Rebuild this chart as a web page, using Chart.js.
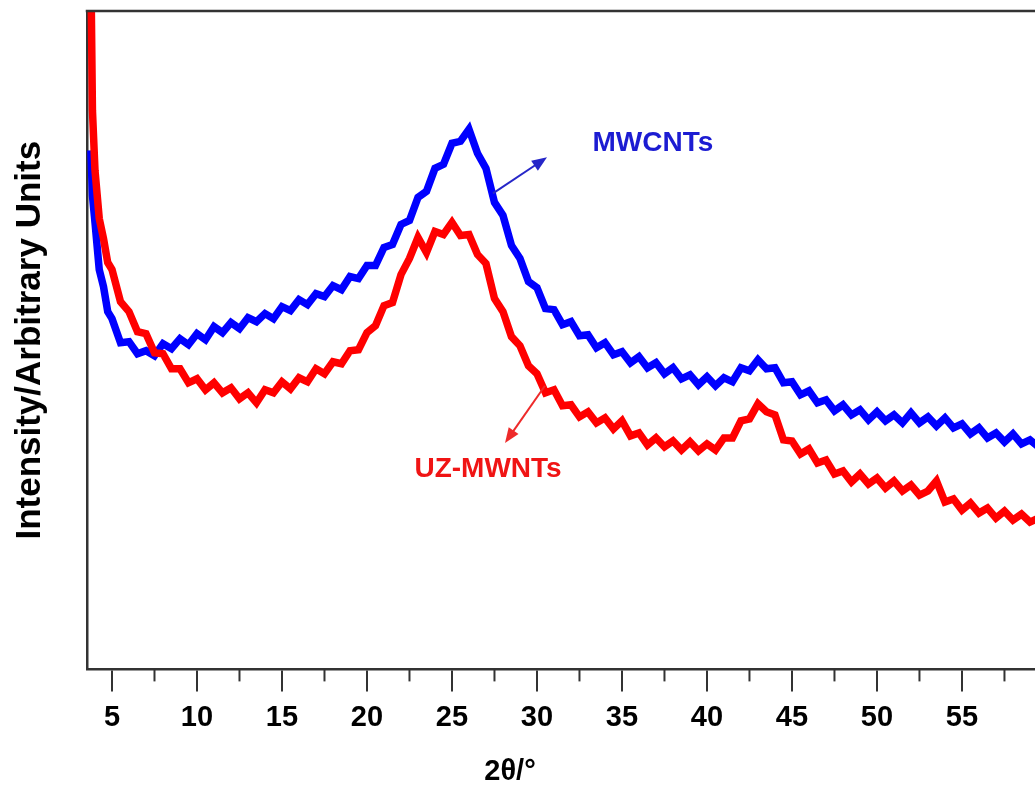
<!DOCTYPE html>
<html><head><meta charset="utf-8">
<script src="https://cdn.jsdelivr.net/npm/chart.js@4.4.0/dist/chart.umd.min.js"></script>
<style>
html,body{margin:0;padding:0;overflow:hidden;background:#fff;width:1035px;height:786px}
#wrap{position:absolute;left:0;top:0;width:1100px;height:786px}
</style>
</head><body><div id="wrap"><canvas id="c" width="1100" height="786"></canvas></div>
<script>
// 2θ (degrees)
const twoTheta = [3.76,3.85,4.0,4.25,4.5,4.75,
  5,5.5,6,6.5,7,7.5,8,8.5,9,9.5,
  10,10.5,11,11.5,12,12.5,13,13.5,14,14.5,
  15,15.5,16,16.5,17,17.5,18,18.5,19,19.5,
  20,20.5,21,21.5,22,22.5,23,23.5,24,24.5,
  25,25.5,26,26.5,27,27.5,28,28.5,29,29.5,
  30,30.5,31,31.5,32,32.5,33,33.5,34,34.5,
  35,35.5,36,36.5,37,37.5,38,38.5,39,39.5,
  40,40.5,41,41.5,42,42.5,43,43.5,44,44.5,
  45,45.5,46,46.5,47,47.5,48,48.5,49,49.5,
  50,50.5,51,51.5,52,52.5,53,53.5,54,54.5,
  55,55.5,56,56.5,57,57.5,58,58.5,59,59.5];
// Intensity (arbitrary units)
const mwcnts = [518,473,446,399,382,357,
  350,326,327,315,318,313,325,320,330,324,
  335,329,342,336,346,340,351,347,355,350,
  362,358,369,364,375,372,383,379,392,390,
  403,403,421,424,444,448,471,477,500,504,
  525,527,539,515,500,466,453,423,410,387,
  381,360,359,344,347,333,334,321,326,314,
  317,306,312,301,306,295,301,290,294,284,
  292,283,291,287,301,298,309,300,301,286,
  287,274,278,266,269,258,264,254,259,249,
  257,248,254,246,256,246,252,243,251,241,
  245,235,241,231,236,227,235,225,229,222];
const uzMwnts = [698,558,498,450,430,406,
  399,367,357,337,335,316,315,300,300,286,
  290,279,286,276,281,270,276,266,279,276,
  287,280,291,287,300,295,307,305,318,319,
  336,343,363,366,394,410,431,416,437,434,
  446,433,434,414,405,370,357,332,323,303,
  295,276,279,263,264,252,257,246,251,240,
  248,233,236,224,231,222,228,219,227,218,
  225,219,231,231,248,250,265,257,254,229,
  228,215,220,206,209,195,198,187,195,185,
  191,181,188,178,184,174,178,188,167,170,
  159,166,156,161,151,158,149,155,147,151];
const xTicks = [5,10,15,20,25,30,35,40,45,50,55];
const xMinorTicks = [7.5,12.5,17.5,22.5,27.5,32.5,37.5,42.5,47.5,52.5,57.5,62.5];

const FONT = '"Liberation Sans", Arial, Helvetica, sans-serif';

function arrow(ctx, x1, y1, x2, y2, color) {
  const ang = Math.atan2(y2 - y1, x2 - x1);
  const hl = 15, hw = 6;
  ctx.strokeStyle = color; ctx.fillStyle = color; ctx.lineWidth = 2;
  ctx.beginPath(); ctx.moveTo(x1, y1);
  ctx.lineTo(x2 - Math.cos(ang) * hl * 0.8, y2 - Math.sin(ang) * hl * 0.8); ctx.stroke();
  ctx.beginPath();
  ctx.moveTo(x2, y2);
  ctx.lineTo(x2 - Math.cos(ang) * hl + Math.sin(ang) * hw, y2 - Math.sin(ang) * hl - Math.cos(ang) * hw);
  ctx.lineTo(x2 - Math.cos(ang) * hl - Math.sin(ang) * hw, y2 - Math.sin(ang) * hl + Math.cos(ang) * hw);
  ctx.closePath(); ctx.fill();
}

const framePlugin = {
  id: 'frame',
  afterDraw(chart) {
    const {ctx, chartArea: a, scales: {x, y}} = chart;
    ctx.save();
    ctx.strokeStyle = '#333'; ctx.lineWidth = 2.5;
    ctx.beginPath(); ctx.moveTo(a.left - 1.25, a.top); ctx.lineTo(a.right, a.top); ctx.stroke();
    ctx.lineWidth = 2;
    xMinorTicks.forEach(v => {
      const px = x.getPixelForValue(v);
      ctx.beginPath(); ctx.moveTo(px, a.bottom); ctx.lineTo(px, a.bottom + 12); ctx.stroke();
    });
    ctx.fillStyle = '#000';
    ctx.font = 'bold 29px ' + FONT;
    ctx.textAlign = 'center'; ctx.textBaseline = 'middle';
    ctx.fillText('2θ/°', 510, 772);

    arrow(ctx, x.getPixelForValue(27.41), y.getPixelForValue(475), x.getPixelForValue(30.59), y.getPixelForValue(511), '#2626c8');
    arrow(ctx, x.getPixelForValue(30.47), y.getPixelForValue(283), x.getPixelForValue(28.12), y.getPixelForValue(226), '#ee2a2a');

    ctx.font = 'bold 28px ' + FONT;
    ctx.fillStyle = '#1c1cd2';
    ctx.fillText('MWCNTs', x.getPixelForValue(36.82), y.getPixelForValue(525));
    ctx.fillStyle = '#f01414';
    ctx.fillText('UZ-MWNTs', x.getPixelForValue(27.12), y.getPixelForValue(200));
    ctx.restore();
  }
};

new Chart(document.getElementById('c'), {
  type: 'line',
  data: {
    datasets: [
      {label: 'UZ-MWNTs', data: twoTheta.map((v, i) => ({x: v, y: uzMwnts[i]})),
       borderColor: '#ff0000', borderWidth: 7.5, pointRadius: 0, tension: 0, clip: 0},
      {label: 'MWCNTs', data: twoTheta.map((v, i) => ({x: v, y: mwcnts[i]})),
       borderColor: '#0000ff', borderWidth: 7.5, pointRadius: 0, tension: 0, clip: 0}
    ]
  },
  options: {
    responsive: false, animation: false, devicePixelRatio: 1,
    layout: {padding: {left: 9, top: 11, right: 0, bottom: 40.6}},
    plugins: {legend: {display: false}, tooltip: {enabled: false}},
    scales: {
      x: {
        type: 'linear', min: 3.53, max: 63.12,
        afterBuildTicks: s => { s.ticks = xTicks.map(v => ({value: v})); },
        grid: {display: true, drawOnChartArea: false, drawTicks: true, tickLength: 22, lineWidth: 2, color: '#333', tickColor: '#333'},
        border: {display: true, color: '#333', width: 2.5},
        ticks: {padding: 9.6, color: '#000', maxRotation: 0, autoSkip: false, font: {family: FONT, size: 29, weight: 'bold'}}
      },
      y: {
        min: 0, max: 657,
        ticks: {display: false},
        grid: {display: false, drawTicks: false},
        border: {display: true, color: '#333', width: 2.5},
        title: {display: true, text: 'Intensity/Arbitrary Units', color: '#000',
                font: {family: FONT, size: 35, weight: 'bold'}, padding: {top: 0, bottom: 36}}
      }
    }
  },
  plugins: [framePlugin]
});
</script>
</body></html>
